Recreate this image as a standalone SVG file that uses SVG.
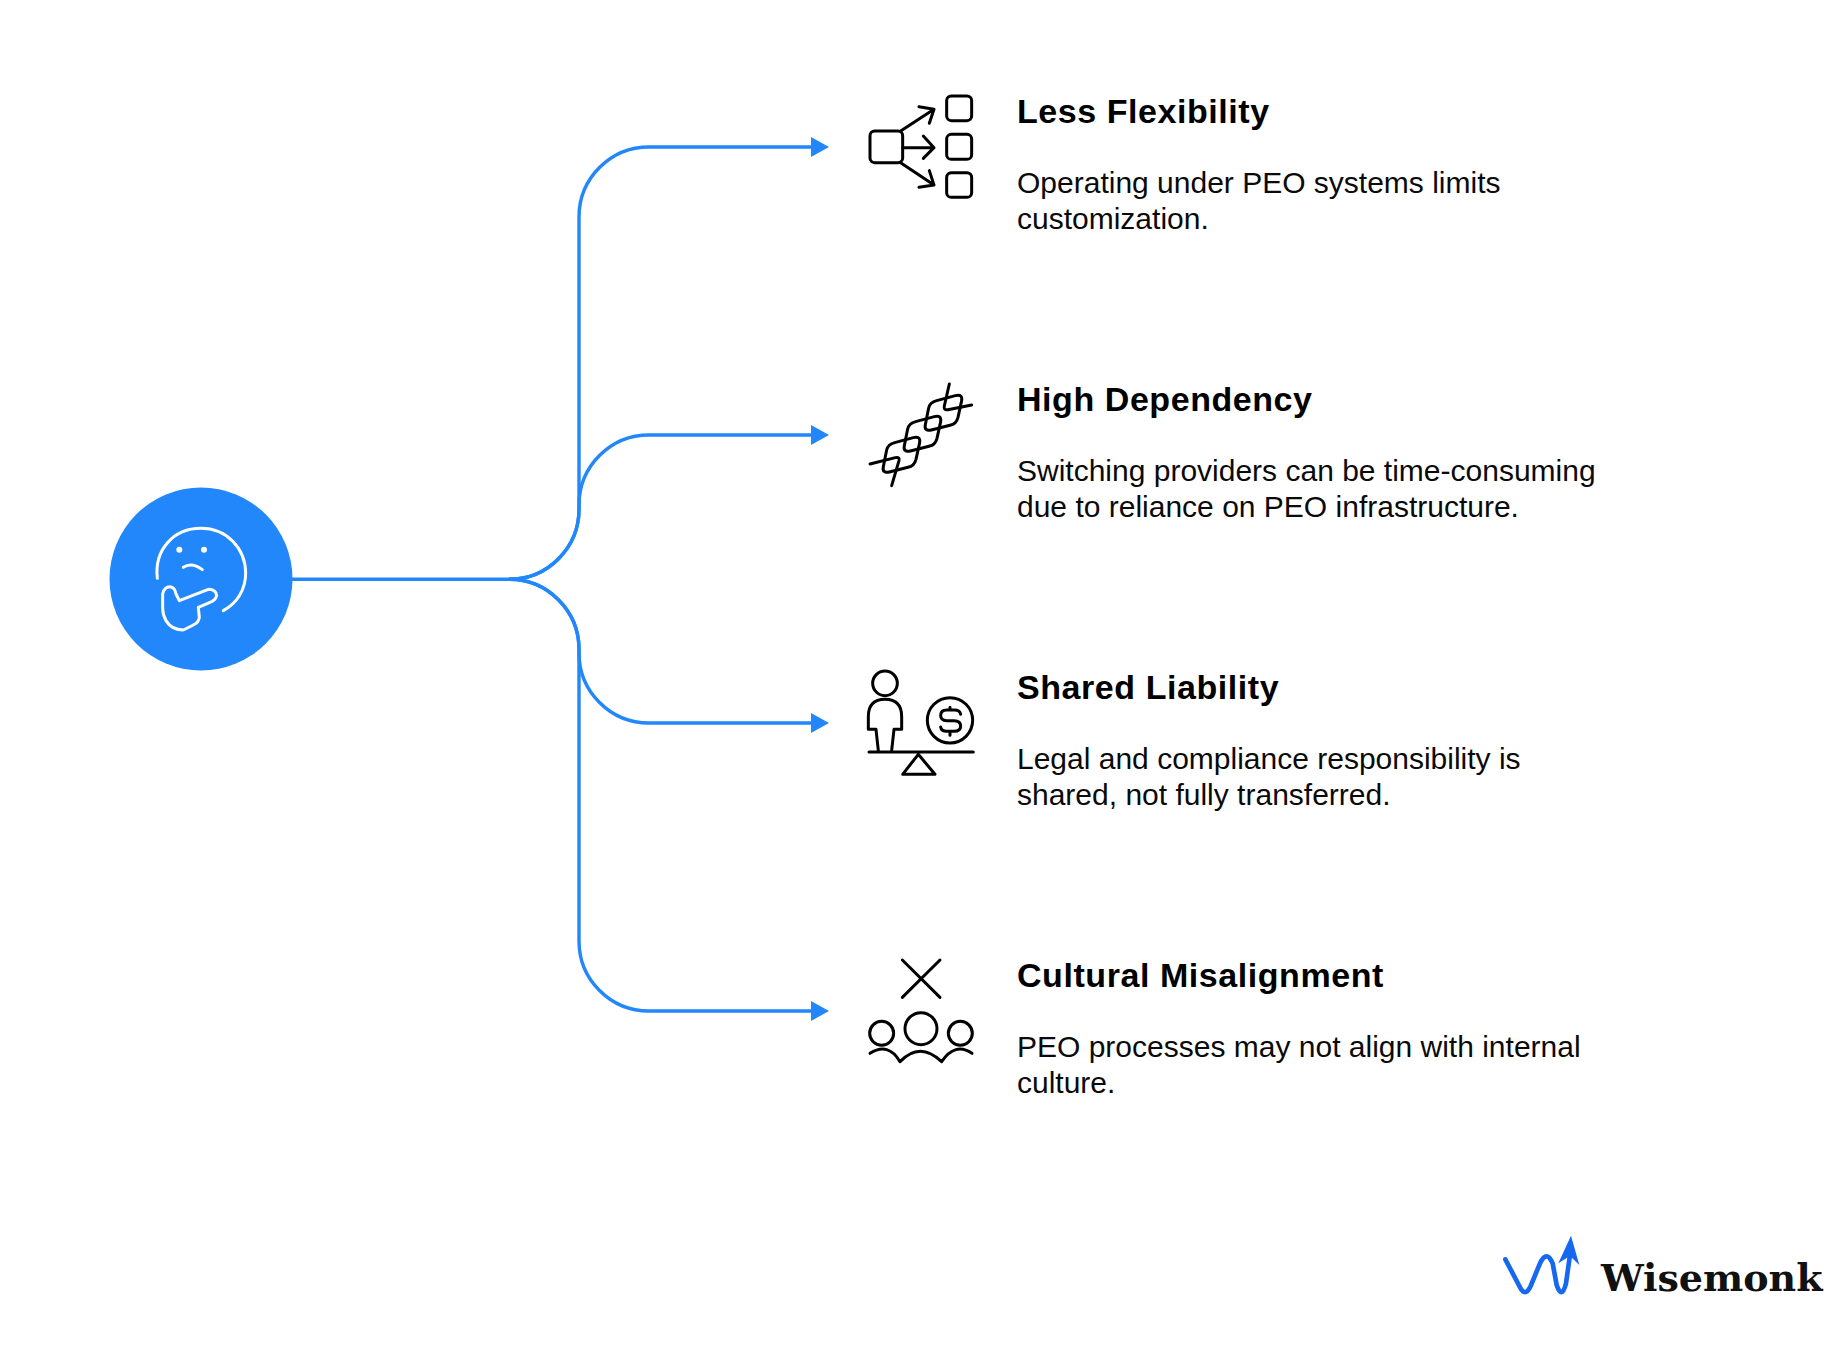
<svg xmlns="http://www.w3.org/2000/svg" width="1828" height="1346" viewBox="0 0 1828 1346">
<defs>
<style>
.t{font:bold 34px "Liberation Sans",Arial,sans-serif;fill:#000;letter-spacing:.56px}
.b{font:30px "Liberation Sans",Arial,sans-serif;fill:#0a0a0a}
.c{fill:none;stroke:#2187fb;stroke-width:3.4}
.i{fill:none;stroke:#000;stroke-width:9;stroke-linecap:round;stroke-linejoin:round}
.w{fill:none;stroke:#fff;stroke-width:9;stroke-linecap:round;stroke-linejoin:round}
</style>
<marker id="ah" markerUnits="userSpaceOnUse" markerWidth="19" markerHeight="24" refX="8" refY="11" orient="auto"><path d="M0 1L18 11L0 21Z" fill="#2187fb"/></marker>
</defs>
<rect width="1828" height="1346" fill="#fff"/>
<g id="connectors">
<path class="c" d="M292 579.3H509A70 70 0 0 0 579 509V217A70 70 0 0 1 649 147H819" marker-end="url(#ah)"/>
<path class="c" d="M509 579.3A70 70 0 0 0 579 509V505A70 70 0 0 1 649 435H819" marker-end="url(#ah)"/>
<path class="c" d="M509 579.3A70 70 0 0 1 579 649V653A70 70 0 0 0 649 723H819" marker-end="url(#ah)"/>
<path class="c" d="M509 579.3A70 70 0 0 1 579 649V941A70 70 0 0 0 649 1011H819" marker-end="url(#ah)"/>
</g>
<g id="root">
<circle cx="201" cy="579" r="91.5" fill="#2187fb"/>
<g transform="translate(90 470) scale(.3333)">
<path class="w" d="M202 325C192 240 250 175 333 175C410 175 467 235 467 310C467 360 440 400 400 422"/>
<circle cx="268" cy="239" r="9" fill="#fff"/><circle cx="342" cy="239" r="9" fill="#fff"/>
<path class="w" d="M280 292Q305 275 337 299"/>
<path class="w" d="M218 372Q222 350 240 350Q255 352 258 372L268 392L355 358Q378 358 380 377Q376 392 360 397L325 412L328 442Q326 458 310 465L280 480Q245 480 228 452Q218 435 218 415Z"/>
</g>
</g>
<g id="node1">
<g class="i" transform="translate(850 80) scale(.3333)">
<rect x="60" y="153" width="98" height="95" rx="14"/>
<rect x="290" y="48" width="75" height="74" rx="14"/><rect x="290" y="163" width="75" height="75" rx="14"/><rect x="290" y="278" width="75" height="74" rx="14"/>
<path d="M152 153L252 88M207 80L252 88L238 130M158 203H252M220 168L252 203L220 235M152 248L252 315M207 322L252 315L238 272"/>
</g>
<text class="t" x="1017" y="122.5">Less Flexibility</text>
<text class="b" x="1017" y="193">Operating under PEO systems limits</text>
<text class="b" x="1017" y="229">customization.</text>
</g>
<g id="node2">
<g class="i" transform="translate(850 370) scale(.3333)">
<path d="M134 218L190 203Q212 197 209 218L198 268Q193 288 174 292L118 306Q96 311 100 290L110 240Q114 223 134 218Z"/>
<path d="M197 155L253 140Q275 134 272 155L261 205Q256 225 237 229L181 243Q159 248 163 227L173 177Q177 160 197 155Z"/>
<path d="M260 92L316 77Q338 71 335 92L324 142Q319 162 300 166L244 180Q222 185 226 164L236 114Q240 97 260 92Z"/>
<path d="M60 282L136 263Q150 260 147 272L125 347M298 42L283 108Q280 122 294 119L365 105"/>
</g>
<text class="t" x="1017" y="410.5">High Dependency</text>
<text class="b" x="1017" y="481">Switching providers can be time-consuming</text>
<text class="b" x="1017" y="517">due to reliance on PEO infrastructure.</text>
</g>
<g id="node3">
<g class="i" transform="translate(850 660) scale(.3333)">
<circle cx="105" cy="70" r="37"/>
<path d="M85 272L78 208H55V170Q55 118 105 118Q155 118 155 170V208H132L125 272"/>
<path d="M57 276H370"/>
<path d="M205 283L255 343H158Z"/>
<circle cx="300" cy="181" r="68"/>
<path d="M332 163Q330 150 314 150H290Q272 150 272 166Q272 182 290 182H312Q332 182 332 198Q332 214 312 214H290Q274 214 272 201M300 142V150M300 214V226"/>
</g>
<text class="t" x="1017" y="699">Shared Liability</text>
<text class="b" x="1017" y="769">Legal and compliance responsibility is</text>
<text class="b" x="1017" y="805">shared, not fully transferred.</text>
</g>
<g id="node4">
<g class="i" transform="translate(850 950) scale(.3333)">
<path d="M157 30L270 142M270 30L157 142"/>
<circle cx="213" cy="236" r="48"/><circle cx="95" cy="250" r="36"/><circle cx="331" cy="250" r="36"/>
<path d="M60 310Q115 275 150 335Q210 272 275 335Q315 275 366 310"/>
</g>
<text class="t" x="1017" y="987">Cultural Misalignment</text>
<text class="b" x="1017" y="1057">PEO processes may not align with internal</text>
<text class="b" x="1017" y="1093">culture.</text>
</g>
<g id="logo">
<g transform="translate(1490 1220) scale(.3333)">
<path d="M46 118L88 198Q105 235 122 198L150 130Q170 88 188 130L200 195Q215 240 228 190L240 105" fill="none" stroke="#1668f0" stroke-width="14" stroke-linecap="round" stroke-linejoin="round"/>
<path d="M243 47L205 130L240 108L268 135Z" fill="#1668f0"/>
</g>
<text x="1601" y="1291" style="font:bold 38px 'DejaVu Serif',serif;fill:#111">Wisemonk</text>
</g>
</svg>
